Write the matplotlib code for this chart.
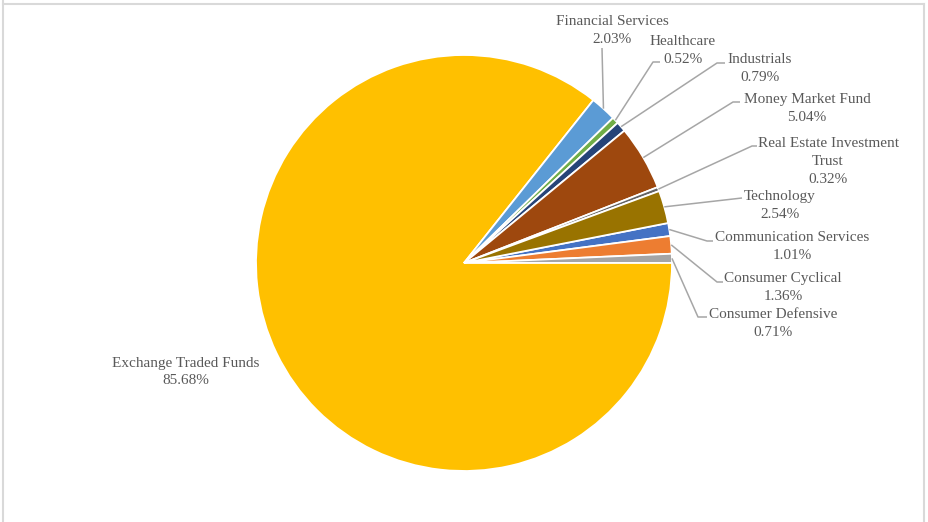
import numpy as np
import matplotlib
matplotlib.use('Agg')
import matplotlib.pyplot as plt
from matplotlib.lines import Line2D

sectors = ['Communication Services', 'Consumer Cyclical', 'Consumer Defensive',
           'Exchange Traded Funds', 'Financial Services', 'Healthcare', 'Industrials',
           'Money Market Fund', 'Real Estate Investment\nTrust', 'Technology']
shares = [1.01, 1.36, 0.71, 85.68, 2.03, 0.52, 0.79, 5.04, 0.32, 2.54]
colors = ['#4472C4', '#ED7D31', '#A5A5A5', '#FFC000', '#5B9BD5',
          '#70AD47', '#264478', '#9E480E', '#636363', '#997300']

# label placement in pixels: text centre, elbow of the leader line, end of the leader line
label_pos = {
    'Communication Services': ((792, 246), (707, 241), (713, 241)),
    'Consumer Cyclical': ((783, 287), (717, 282), (723, 282)),
    'Consumer Defensive': ((773, 324), (698, 317), (707, 317)),
    'Exchange Traded Funds': ((186, 372), None, None),
    'Financial Services': ((612, 30), (602, 48), (602, 48)),
    'Healthcare': ((683, 50), (653, 62), (660, 62)),
    'Industrials': ((760, 68), (717, 63), (725, 63)),
    'Money Market Fund': ((807, 108), (733, 102), (740, 102)),
    'Real Estate Investment\nTrust': ((828, 161), (752, 146), (757, 146)),
    'Technology': ((780, 205), (742, 198), (742, 198)),
}

W, H = 929, 522
cx, cy, R = 464, 263, 208


def px(x, y):
    return (x - cx) / R, (cy - y) / R


fig = plt.figure(figsize=(W / 100, H / 100), dpi=100)
ax = fig.add_axes([0, 0, 1, 1])

start = sum(shares[:3]) / 100 * 360
wedges, _ = ax.pie(shares, colors=colors, startangle=start, counterclock=False,
                   radius=1.0, center=(0, 0), frame=True,
                   wedgeprops=dict(edgecolor='white', linewidth=1.3))
ax.set_xlim(-cx / R, (W - cx) / R)
ax.set_ylim(-(H - cy) / R, cy / R)
ax.set_aspect('equal')
ax.axis('off')

txt_color = '#595959'
line_color = '#A6A6A6'
for name, val, w in zip(sectors, shares, wedges):
    (tx, ty), elbow, end = label_pos[name]
    ax.text(*px(tx, ty), f'{name}\n{val:.2f}%', ha='center', va='center',
            fontsize=11, family='Liberation Serif', color=txt_color,
            linespacing=1.5)
    if elbow is None:
        continue
    mid = np.deg2rad((w.theta1 + w.theta2) / 2)
    x0, y0 = 1.0 * np.cos(mid), 1.0 * np.sin(mid)
    ex, ey = px(*elbow)
    fx, fy = px(*end)
    ax.plot([x0, ex, fx], [y0, ey, fy], color=line_color, lw=1.1,
            solid_capstyle='butt')

# chart frame
for xs, ys in [([3.5, 3.5], [0, 522]), ([3.5, 924.5], [3.5, 3.5]), ([924.5, 924.5], [3.5, 522])]:
    fig.add_artist(Line2D([x / W for x in xs], [1 - y / H for y in ys],
                          color='#D9D9D9', lw=1.5))

fig.savefig('out.png', dpi=100)
